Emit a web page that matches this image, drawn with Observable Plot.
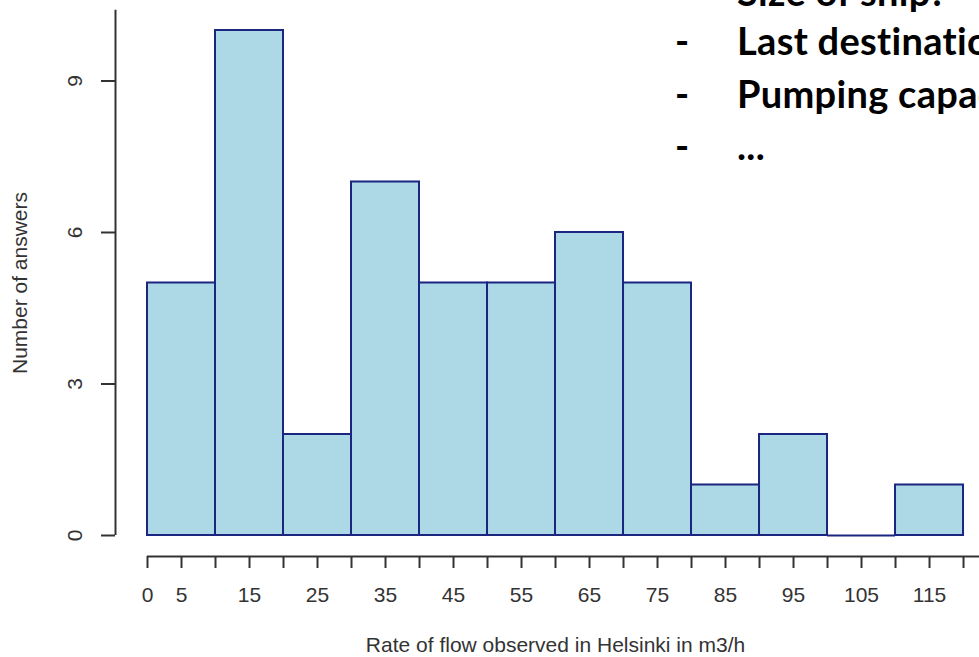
<!DOCTYPE html>
<html><head><meta charset="utf-8">
<script src="https://cdn.jsdelivr.net/npm/d3@7"></script>
<script src="https://cdn.jsdelivr.net/npm/@observablehq/plot@0.6"></script>
<style>
html,body{margin:0;padding:0;background:#fff;overflow:hidden;width:979px;height:657px}
#wrap{position:relative;width:979px;height:657px;overflow:hidden;background:#fff}
#wrap > svg{position:absolute;left:0;top:0}
</style></head><body><div id="wrap"></div>
<script>
// ---- data ----
const binEdges = [0, 10, 20, 30, 40, 50, 60, 70, 80, 90, 100, 110, 120];
const counts = [5, 10, 2, 7, 5, 5, 6, 5, 1, 2, 0, 1];
const xTicks = [0, 5, 10, 15, 20, 25, 30, 35, 40, 45, 50, 55, 60, 65, 70, 75, 80, 85, 90, 95, 100, 105, 110, 115, 120];
const xTickLabels = [0, 5, 15, 25, 35, 45, 55, 65, 75, 85, 95, 105, 115];
const yTicks = [0, 3, 6, 9];
const xTitle = "Rate of flow observed in Helsinki in m3/h";
const yTitle = "Number of answers";
const slideLines = ["Size of ship?", "Last destination", "Pumping capacity", "..."];

// ---- build ----
const bins = counts.map((c, i) => ({x1: binEdges[i], x2: binEdges[i + 1], count: c}));
const xDomain = [-4.706, 122.35];
const yDomain = [-0.416, 10.594];
const barFill = "#add8e6", barStroke = "#1a2680", ink = "#333";
const font = "'Liberation Sans', Arial, sans-serif";

const chart = Plot.plot({
  width: 979, height: 657,
  marginLeft: 115, marginRight: 0, marginTop: 0, marginBottom: 101,
  style: {fontFamily: font, fontSize: "21px", color: ink, background: "transparent"},
  x: {domain: xDomain, ticks: xTicks, tickSize: 12, tickPadding: 19,
      tickFormat: d => xTickLabels.includes(d) ? String(d) : "", label: null},
  y: {domain: yDomain, ticks: yTicks, tickSize: 14, tickFormat: () => "", label: null},
  marks: [
    Plot.rect(bins.filter(d => d.count > 0), {x1: "x1", x2: "x2", y1: 0, y2: "count",
      fill: barFill, stroke: barStroke, strokeWidth: 2}),
    Plot.ruleY(bins.filter(d => d.count === 0), {x1: "x1", x2: "x2", y: 0,
      stroke: barStroke, strokeWidth: 2}),
    Plot.ruleY([yDomain[0]], {x1: binEdges[0], x2: xDomain[1], stroke: ink, strokeWidth: 2}),
    Plot.ruleX([xDomain[0]], {y1: 0, y2: d3.max(counts) * 1.04, stroke: ink, strokeWidth: 2}),
    Plot.text(yTicks, {y: d => d, text: d => String(d), frameAnchor: "left", dx: -40,
      rotate: -90, textAnchor: "middle", lineAnchor: "middle", fontSize: 21, fill: ink}),
    Plot.text([xTitle], {x: (binEdges[0] + binEdges[binEdges.length - 1]) / 2, text: d => d,
      frameAnchor: "bottom", dy: 89, textAnchor: "middle", lineAnchor: "middle", fontSize: 21, fill: ink}),
    Plot.text([yTitle], {y: d3.max(counts) / 2, text: d => d, frameAnchor: "left", dx: -95,
      rotate: -90, textAnchor: "middle", lineAnchor: "middle", fontSize: 21, fill: ink})
  ]
});
const wrap = document.getElementById("wrap");
wrap.appendChild(chart);
d3.select(chart).selectAll("g[aria-label='x-axis tick'] path, g[aria-label='y-axis tick'] path")
  .attr("stroke-width", 2);

// ---- slide text overlay ----
const ov = d3.select(wrap).append("svg").attr("width", 979).attr("height", 657)
  .style("font-family", "Lato, 'Open Sans', sans-serif").style("font-weight", "bold")
  .style("font-size", "38px").style("letter-spacing", "0.3px").attr("fill", "#000");
const baselines = [6, 55, 108, 160];
slideLines.forEach((t, i) => {
  ov.append("text").attr("x", 737).attr("y", baselines[i]).text(t);
  ov.append("text").attr("x", 675).attr("y", baselines[i]).text("-");
});
</script></body></html>
